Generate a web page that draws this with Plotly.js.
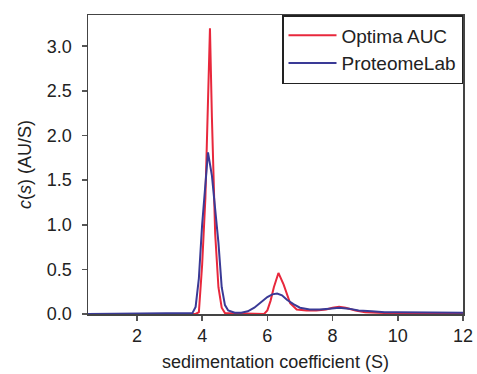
<!DOCTYPE html>
<html>
<head>
<meta charset="utf-8">
<script src="https://cdn.plot.ly/plotly-3.0.1.min.js"></script>
<style>html,body{margin:0;padding:0;background:#fff;}#chart{width:477px;height:374px;}</style>
</head>
<body>
<div id="chart"></div>
<script>
// Optima AUC (red)
const optimaS = [0.5, 3.8, 3.9, 4.0, 4.1, 4.2, 4.24, 4.3, 4.4, 4.5, 4.6, 4.7, 5.9, 6.0, 6.1, 6.2, 6.34, 6.5, 6.6, 6.7, 6.9, 7.2, 7.5, 7.8, 8.0, 8.2, 8.4, 8.7, 9.0, 9.5, 10, 11, 12];
const optimaC = [0, 0, 0.02, 0.55, 1.3, 2.6, 3.2, 2.2, 0.9, 0.3, 0.07, 0.01, 0, 0.04, 0.15, 0.3, 0.46, 0.33, 0.22, 0.12, 0.05, 0.04, 0.04, 0.05, 0.07, 0.08, 0.07, 0.04, 0.02, 0.01, 0.005, 0, 0];
// ProteomeLab (blue)
const proteoS = [0.5, 3.7, 3.8, 3.9, 4.0, 4.1, 4.18, 4.3, 4.4, 4.5, 4.6, 4.7, 4.8, 5.0, 5.2, 5.4, 5.6, 5.8, 6.0, 6.15, 6.3, 6.45, 6.6, 6.8, 7.0, 7.3, 7.6, 7.9, 8.2, 8.5, 8.8, 9.2, 9.6, 10, 11, 12];
const proteoC = [0, 0.01, 0.08, 0.4, 1.0, 1.5, 1.81, 1.55, 1.15, 0.8, 0.3, 0.1, 0.04, 0.015, 0.015, 0.03, 0.07, 0.13, 0.19, 0.22, 0.23, 0.21, 0.16, 0.11, 0.07, 0.05, 0.05, 0.06, 0.07, 0.06, 0.04, 0.03, 0.02, 0.02, 0.015, 0.015];
const seriesNames = ["Optima AUC", "ProteomeLab"];
const xTicks = [2, 4, 6, 8, 10, 12];
const yTicks = [0, 0.5, 1.0, 1.5, 2.0, 2.5, 3.0];
const yTickText = ["0.0", "0.5", "1.0", "1.5", "2.0", "2.5", "3.0"];

const font = {family: "Liberation Sans, Arial, sans-serif", size: 18, color: "#222"};
const traces = [
  {x: optimaS, y: optimaC, name: seriesNames[0], type: "scatter", mode: "lines",
   line: {color: "#e8283c", width: 2}},
  {x: proteoS, y: proteoC, name: seriesNames[1], type: "scatter", mode: "lines",
   line: {color: "#3a3a96", width: 2}}
];
const layout = {
  width: 477, height: 374,
  margin: {l: 88, r: 14, t: 15, b: 60},
  paper_bgcolor: "#fff", plot_bgcolor: "#fff",
  font: font,
  showlegend: true,
  legend: {x: 1, y: 1, xanchor: "right", yanchor: "top", itemwidth: 48,
    bordercolor: "#222", borderwidth: 1.5, bgcolor: "#fff",
    font: {family: font.family, size: 19, color: "#222"}, tracegroupgap: 0},
  xaxis: {range: [0.5, 12], tickvals: xTicks, ticks: "outside", ticklen: 5, tickwidth: 1.5,
    tickcolor: "#555", showline: true, linecolor: "#444", linewidth: 1.5, mirror: true,
    showgrid: false, zeroline: false,
    title: {text: "sedimentation coefficient (S)", standoff: 10, font: {size: 18}}},
  yaxis: {range: [0, 3.35], tickvals: yTicks, ticktext: yTickText, ticks: "outside", ticklen: 5, tickwidth: 1.5,
    tickcolor: "#555", showline: true, linecolor: "#444", linewidth: 1.5, mirror: true,
    showgrid: false, zeroline: false, ticklabelstandoff: 6,
    title: {text: "<i>c</i>(<i>s</i>) (AU/S)", standoff: 10, font: {size: 18}}}
};
Plotly.newPlot("chart", traces, layout, {displayModeBar: false, staticPlot: true});
</script>
</body>
</html>
